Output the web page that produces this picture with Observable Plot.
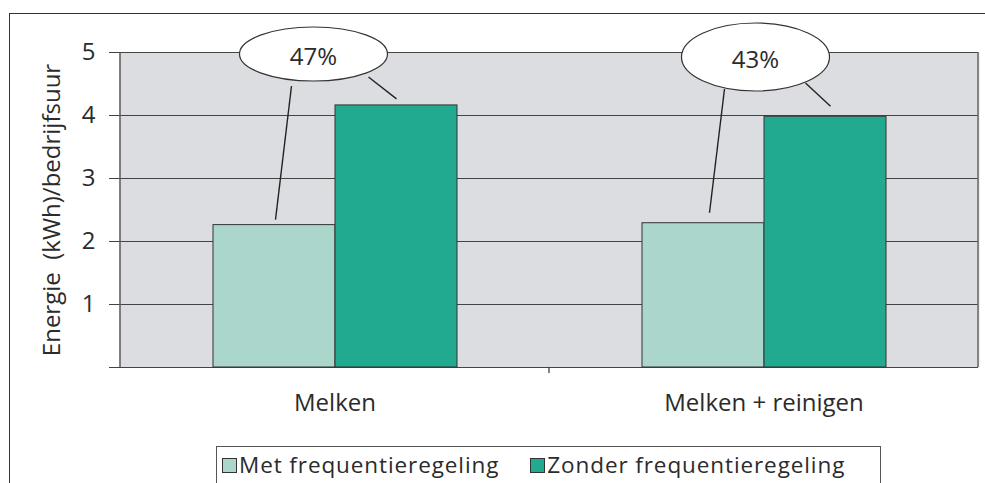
<!DOCTYPE html>
<html><head><meta charset="utf-8">
<script src="https://cdn.jsdelivr.net/npm/d3@7"></script>
<script src="https://cdn.jsdelivr.net/npm/@observablehq/plot@0.6"></script>
<style>
body{margin:0;background:#fff;font-family:"Open Sans",sans-serif;color:#2b2b2b;}
#wrap{position:relative;width:985px;height:483px;overflow:hidden;}
#border{position:absolute;left:9px;top:13px;width:990px;height:490px;border-left:1.5px solid #333;border-top:1.5px solid #333;}
#chart{position:absolute;left:0;top:0;}
#legend{position:absolute;left:216px;top:446px;width:665px;height:50px;border:1px solid #555;background:#fff;box-sizing:border-box;display:flex;align-items:flex-start;padding-top:3px;font-size:22.5px;letter-spacing:0.9px;line-height:30px;}
.item{display:flex;align-items:center;}
.sw{width:15px;height:15px;border:1px solid #333;margin-right:2px;box-sizing:border-box;}
</style>
</head><body>
<div id="wrap"><div id="border"></div><div id="chart"></div><div id="legend"></div></div>
<script>
const categories = ["Melken", "Melken + reinigen"];
const series = ["Met frequentieregeling", "Zonder frequentieregeling"];
const metValues = [2.26, 2.29];
const zonderValues = [4.16, 3.98];
const calloutLabels = ["47%", "43%"];
const yTicks = [0, 1, 2, 3, 4, 5];
const colors = ["#aad6cb", "#21aa90"];

const data = [];
categories.forEach((c, i) => {
  data.push({category: c, series: series[0], value: metValues[i]});
  data.push({category: c, series: series[1], value: zonderValues[i]});
});

// annotation geometry (pixel offsets relative to the bar boundary / bar tops)
const calloutStyle = [
  {dx: -21, dy: 2, rx: 74, ry: 27, lines: [[-43, 32, -59, -5, 0], [34, 23, 62, -6, 1]]},
  {dx: -8, dy: 5, rx: 74, ry: 34, lines: [[-39, 32, -54, -10, 0], [42, 26, 67, -10, 1]]}
];

const chart = Plot.plot({
  width: 985,
  height: 440,
  marginTop: 52,
  marginBottom: 73,
  marginLeft: 120,
  marginRight: 7,
  style: {fontFamily: "Open Sans, sans-serif", color: "#2b2b2b", overflow: "visible"},
  fx: {domain: categories, padding: 0},
  x: {domain: series, paddingInner: 0, paddingOuter: 0.744},
  y: {domain: [0, 5]},
  color: {domain: series, range: colors},
  marks: [
    Plot.frame({fill: "#dcdde0", stroke: "none", insetRight: -1}),
    Plot.ruleY(yTicks, {stroke: "#444", strokeWidth: 1.2}),
    Plot.barY(data, {fx: "category", x: "series", y: "value", fill: "series",
      stroke: "#333", strokeWidth: 1, insetLeft: 0, insetRight: 0}),
    Plot.axisY(yTicks, {tickSize: 11, tickPadding: 14, fontSize: 24, stroke: "#444",
      tickFormat: d => (d === 0 ? "" : String(d)),
      label: "Energie\u00a0 (kWh)/bedrijfsuur", labelAnchor: "center", labelArrow: "none", labelOffset: 78}),
    Plot.axisFx({anchor: "bottom", tickSize: 0, tickPadding: 26, fontSize: 24, label: null}),
    Plot.axisX({ticks: [], label: null, tickSize: 0})
  ]
});
document.getElementById("chart").appendChild(chart);

// annotations drawn with the plot's own scales
(function () {
  const fxS = chart.scale("fx"), xS = chart.scale("x"), yS = chart.scale("y");
  const fx = d3.scaleBand(fxS.domain, fxS.range).paddingInner(fxS.paddingInner || 0).paddingOuter(fxS.paddingOuter || 0).align(fxS.align ?? 0.5);
  const xb = d3.scaleBand(xS.domain, xS.range).paddingInner(xS.paddingInner || 0).paddingOuter(xS.paddingOuter || 0).align(xS.align ?? 0.5);
  const y = d3.scaleLinear(yS.domain, yS.range);
  const xr0 = Math.min(...xS.range);
  const X = (cat, s) => fx(cat) + xb(s) - xr0;
  const svg = d3.select(chart);
  const g = svg.append("g");
  const y0 = y(0), y5 = y(5);
  const left = Math.min(...fxS.range), right = Math.max(...fxS.range);
  g.append("line").attr("x1", left).attr("x2", left).attr("y1", y5).attr("y2", y0)
    .attr("stroke", "#555").attr("stroke-width", 1.5);
  g.append("line").attr("x1", right).attr("x2", right).attr("y1", y5).attr("y2", y0)
    .attr("stroke", "#666").attr("stroke-width", 1.5);
  for (let k = 1; k < categories.length; k++) {
    const bx = fx(categories[k]);
    g.append("line").attr("x1", bx).attr("x2", bx).attr("y1", y0).attr("y2", y0 + 6)
      .attr("stroke", "#333").attr("stroke-width", 1.2);
  }
  categories.forEach((cat, i) => {
    const st = calloutStyle[i];
    const mid = X(cat, series[1]);
    const tops = [y(metValues[i]), y(zonderValues[i])];
    const cx = mid + st.dx, cy = y5 + st.dy;
    for (const [sx, sy, ex, ey, b] of st.lines) {
      g.append("line").attr("x1", mid + sx).attr("y1", cy + sy)
        .attr("x2", mid + ex).attr("y2", tops[b] + ey)
        .attr("stroke", "#222").attr("stroke-width", 1.4);
    }
    g.append("ellipse").attr("cx", cx).attr("cy", cy).attr("rx", st.rx).attr("ry", st.ry)
      .attr("fill", "#fff").attr("stroke", "#333").attr("stroke-width", 1.2);
    g.append("text").attr("x", cx).attr("y", cy + 3).attr("dy", "0.35em")
      .attr("text-anchor", "middle").attr("font-size", 24).attr("fill", "#2b2b2b")
      .attr("font-family", "Open Sans, sans-serif").text(calloutLabels[i]);
  });
})();

const legend = document.getElementById("legend");
series.forEach((s, i) => {
  const item = document.createElement("div");
  item.className = "item";
  item.style.marginLeft = i === 0 ? "5px" : "31px";
  const sw = document.createElement("div");
  sw.className = "sw";
  sw.style.background = colors[i];
  const t = document.createElement("span");
  t.textContent = s;
  item.appendChild(sw); item.appendChild(t);
  legend.appendChild(item);
});
</script>
</body></html>
